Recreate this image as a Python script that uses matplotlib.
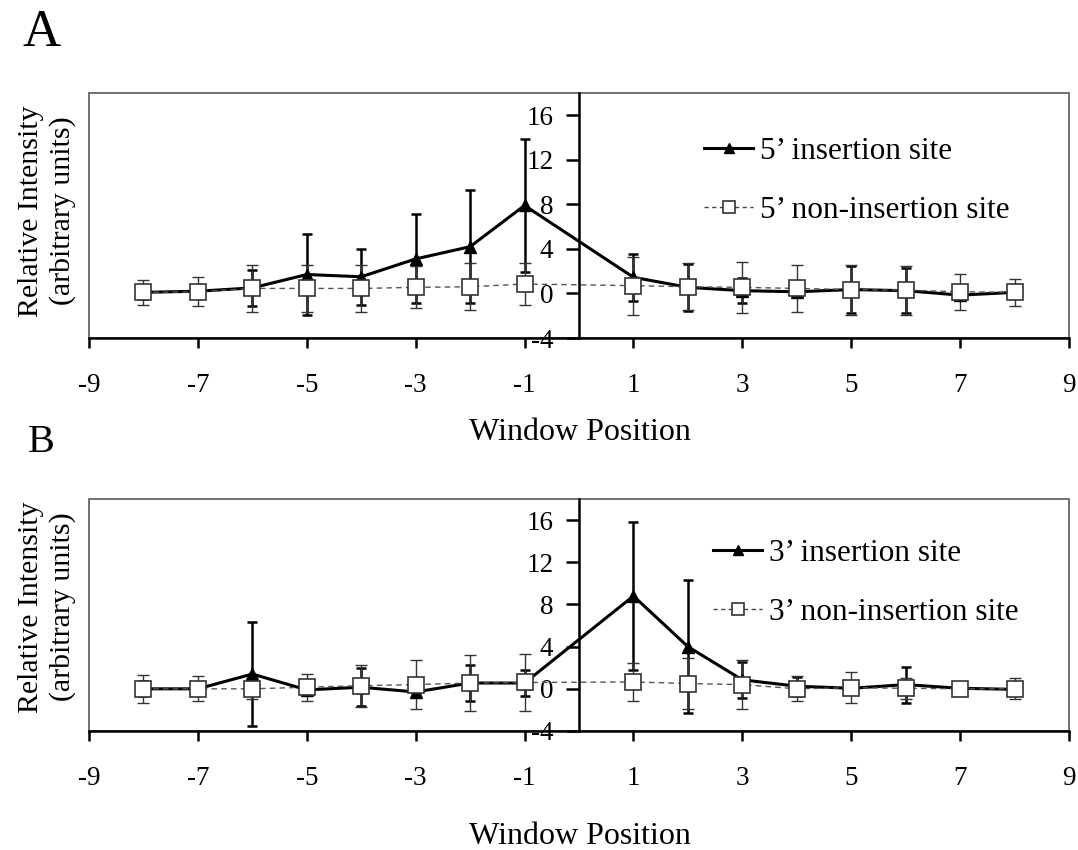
import matplotlib
matplotlib.use("Agg")
import matplotlib.pyplot as plt
from matplotlib.patches import Rectangle
from matplotlib.lines import Line2D

plt.rcParams['font.family'] = ['Liberation Serif', 'DejaVu Serif']
plt.rcParams['axes.unicode_minus'] = False

positions = [-8, -7, -6, -5, -4, -3, -2, -1, 1, 2, 3, 4, 5, 6, 7, 8]

A_ins = [0.1, 0.2, 0.5, 1.7, 1.5, 3.1, 4.2, 7.9, 1.45, 0.55, 0.25, 0.15, 0.35, 0.25, -0.15, 0.1]
A_ins_err = [0.6, 0.5, 1.6, 3.6, 2.5, 4.0, 5.1, 6.0, 2.1, 2.1, 1.1, 0.3, 2.1, 2.0, 0.2, 0.3]
A_non = [0.1, 0.15, 0.45, 0.45, 0.45, 0.55, 0.6, 0.85, 0.7, 0.6, 0.55, 0.45, 0.35, 0.3, 0.15, 0.1]
A_non_err = [1.1, 1.3, 2.1, 2.1, 2.1, 1.9, 2.1, 1.9, 2.6, 2.1, 2.3, 2.1, 2.25, 2.2, 1.6, 1.2]

B_ins = [0.0, 0.0, 1.4, -0.1, 0.15, -0.3, 0.55, 0.55, 8.8, 4.0, 0.85, 0.25, 0.05, 0.4, 0.05, -0.05]
B_ins_err = [0.7, 0.3, 4.9, 0.4, 1.8, 0.3, 1.7, 1.2, 7.0, 6.3, 1.7, 0.9, 0.3, 1.7, 0.6, 0.3]
B_non = [0.0, 0.0, 0.0, 0.15, 0.3, 0.4, 0.55, 0.6, 0.65, 0.5, 0.4, 0.0, 0.1, 0.05, 0.0, 0.0]
B_non_err = [1.3, 1.2, 1.0, 1.3, 2.0, 2.3, 2.7, 2.7, 1.8, 2.4, 2.3, 1.2, 1.45, 1.0, 0.6, 1.0]

x_ticks = [-9, -7, -5, -3, -1, 1, 3, 5, 7, 9]
y_ticks = [-4, 0, 4, 8, 12, 16]

labels_A = ["5’ insertion site", "5’ non-insertion site"]
labels_B = ["3’ insertion site", "3’ non-insertion site"]

W, H = 1078, 850
fig = plt.figure(figsize=(W / 100, H / 100), dpi=100)


def px_rect(l, t, r, b):
    return [l / W, 1 - b / H, (r - l) / W, (b - t) / H]


def panel(rect, ins, ins_err, non, non_err, labels, leg_xy):
    ax = fig.add_axes(px_rect(*rect))
    ax.set_xlim(-9, 9)
    ax.set_ylim(-4, 18)
    # error bars
    ax.errorbar(positions, ins, yerr=ins_err, fmt='none', ecolor='black',
                elinewidth=1.8, capsize=3.5, capthick=1.8, zorder=3)
    ax.errorbar(positions, non, yerr=non_err, fmt='none', ecolor='#333333',
                elinewidth=1.0, capsize=4, capthick=1.0, zorder=4)
    # lines
    ax.plot(positions, ins, color='black', lw=2.2, marker='^', markersize=8,
            zorder=5)
    ax.plot(positions, non, color='#555555', lw=1.0, ls=(0, (4, 3)),
            marker='s', markersize=11, markerfacecolor='white',
            markeredgecolor='#333333', markeredgewidth=1.2, zorder=6)
    for s in ['top', 'right']:
        ax.spines[s].set_visible(False)
    ax.spines['left'].set_position(('data', 0))
    ax.spines['left'].set_linewidth(1.8)
    ax.spines['bottom'].set_linewidth(1.8)
    ax.add_patch(Rectangle((0, 0), 1, 1, transform=ax.transAxes, fill=False,
                           edgecolor='#666666', lw=1.3, clip_on=False, zorder=0))
    ax.set_xticks(x_ticks)
    ax.set_xticklabels([str(v) for v in x_ticks])
    ax.set_yticks(y_ticks)
    ax.set_yticklabels([str(v) for v in y_ticks])
    ax.tick_params(axis='x', direction='out', length=7, width=1.8, pad=18,
                   labelsize=19.5)
    ax.tick_params(axis='y', direction='out', length=9.5, width=1.8, pad=9,
                   labelsize=19.5)
    h1 = Line2D([], [], color='black', lw=2.2, marker='^', markersize=7)
    h2 = Line2D([], [], color='#444444', lw=1.0, ls=(0, (3, 2.5)), marker='s',
                markersize=8, markerfacecolor='white', markeredgecolor='#333333',
                markeredgewidth=1.2)
    ax.legend([h1, h2], labels, loc='upper left',
              bbox_to_anchor=(leg_xy[0] / W, 1 - leg_xy[1] / H),
              bbox_transform=fig.transFigure, frameon=False, fontsize=22.5,
              handlelength=1.57, handletextpad=0.22, labelspacing=0.97,
              borderpad=0, borderaxespad=0, numpoints=1)
    return ax


axA = panel((89, 93, 1069, 338), A_ins, A_ins_err, A_non, A_non_err, labels_A, (704, 137))
axB = panel((89, 499, 1069, 731), B_ins, B_ins_err, B_non, B_non_err, labels_B, (713, 539))

# y labels
for yc in (211, 607):
    fig.text(47 / W, 1 - yc / H, "Relative Intensity\n(arbitrary units)", rotation=90,
             ha='center', va='center', fontsize=21.5, linespacing=1.2)
# x labels
fig.text(580 / W, 1 - 433 / H, "Window Position", ha='center', va='center', fontsize=23)
fig.text(580 / W, 1 - 836 / H, "Window Position", ha='center', va='center', fontsize=23)
# panel letters
fig.text(42 / W, 1 - 33 / H, "A", ha='center', va='center', fontsize=38)
fig.text(41 / W, 1 - 442 / H, "B", ha='center', va='center', fontsize=29)

fig.savefig("out.png", dpi=100)
